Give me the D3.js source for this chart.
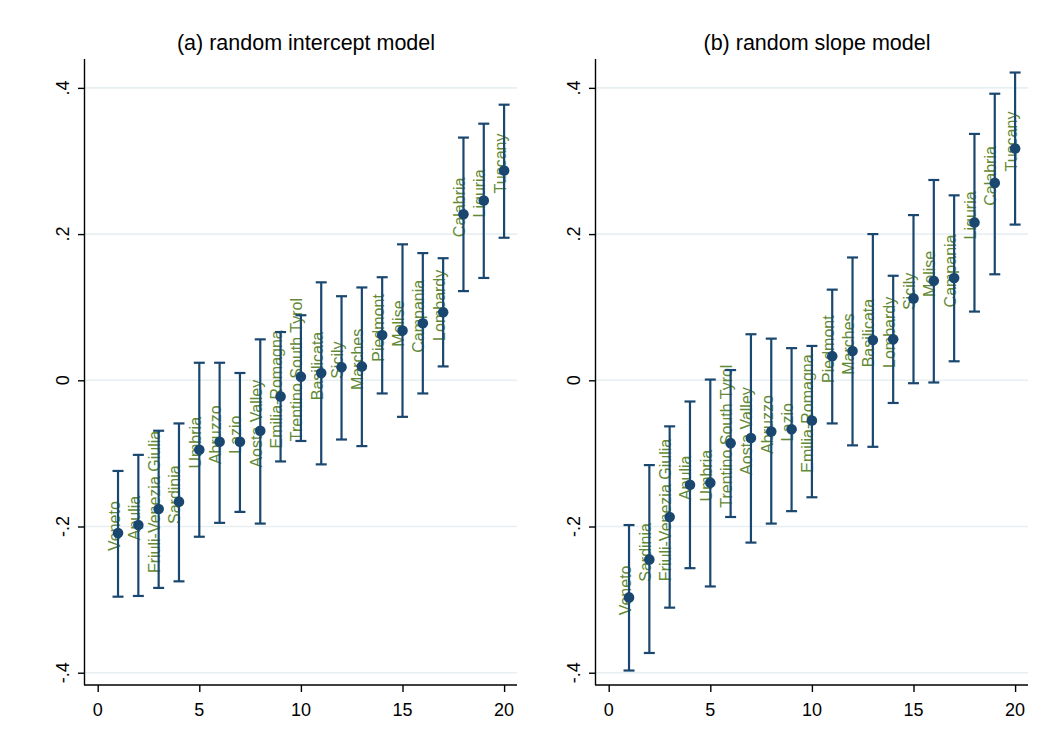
<!DOCTYPE html>
<html>
<head>
<meta charset="utf-8">
<script src="https://cdn.jsdelivr.net/npm/d3@7"></script>
<style>
  html, body { margin: 0; padding: 0; background: #fff; }
  svg { display: block; font-family: "Liberation Sans", Arial, sans-serif; }
</style>
</head>
<body>
<svg id="chart" width="1054" height="752"></svg>
<script>
// ---- data (panel a: random intercept model) ----
const regionsA = ["Veneto","Apulia","Friuli-Venezia Giulia","Sardinia","Umbria","Abruzzo","Lazio","Aosta Valley","Emilia-Romagna","Trentino South Tyrol","Basilicata","Sicily","Marches","Piedmont","Molise","Campania","Lombardy","Calabria","Liguria","Tuscany"];
const estA = [-0.209,-0.198,-0.176,-0.166,-0.095,-0.084,-0.084,-0.069,-0.022,0.005,0.010,0.018,0.019,0.062,0.068,0.078,0.093,0.227,0.246,0.287];
const loA  = [-0.296,-0.295,-0.284,-0.275,-0.214,-0.195,-0.180,-0.196,-0.111,-0.083,-0.115,-0.081,-0.090,-0.018,-0.050,-0.018,0.019,0.122,0.140,0.195];
const hiA  = [-0.124,-0.102,-0.069,-0.059,0.024,0.024,0.010,0.056,0.066,0.089,0.134,0.115,0.127,0.141,0.186,0.174,0.167,0.332,0.351,0.377];

// ---- data (panel b: random slope model) ----
const regionsB = ["Veneto","Sardinia","Friuli-Venezia Giulia","Apulia","Umbria","Trentino South Tyrol","Aosta Valley","Abruzzo","Lazio","Emilia-Romagna","Piedmont","Marches","Basilicata","Lombardy","Sicily","Molise","Campania","Liguria","Calabria","Tuscany"];
const estB = [-0.297,-0.245,-0.187,-0.143,-0.140,-0.086,-0.079,-0.070,-0.067,-0.055,0.033,0.040,0.055,0.056,0.112,0.136,0.140,0.216,0.270,0.317];
const loB  = [-0.397,-0.373,-0.311,-0.257,-0.282,-0.187,-0.222,-0.196,-0.179,-0.160,-0.059,-0.089,-0.091,-0.031,-0.004,-0.003,0.026,0.094,0.145,0.213];
const hiB  = [-0.198,-0.116,-0.063,-0.029,0.001,0.014,0.063,0.057,0.044,0.047,0.124,0.168,0.200,0.143,0.226,0.274,0.253,0.337,0.392,0.421];

const titles = ["(a) random intercept model", "(b) random slope model"];
const xTicks = [0, 5, 10, 15, 20];
const yTicks = [-0.4, -0.2, 0, 0.2, 0.4];
const yTickLabels = ["-.4", "-.2", "0", ".2", ".4"];

// ---- styling ----
const navy = "#1a476f";
const olive = "#628a36";
const gridColor = "#e8eff2";

const svg = d3.select("#chart");
svg.append("rect").attr("width", 1054).attr("height", 752).attr("fill", "#fff");

const panels = [
  { left: 85, right: 517, title: titles[0], names: regionsA, est: estA, lo: loA, hi: hiA },
  { left: 596, right: 1028, title: titles[1], names: regionsB, est: estB, lo: loB, hi: hiB }
];
const plotTop = 59, plotBottom = 685;

panels.forEach(p => {
  const x = d3.scaleLinear().domain([-0.625, 20.635]).range([p.left, p.right]);
  const y = d3.scaleLinear().domain([-0.4168, 0.4395]).range([plotBottom, plotTop]);
  const g = svg.append("g");

  // title
  g.append("text")
    .attr("x", (p.left + p.right) / 2 + 5)
    .attr("y", 50)
    .attr("text-anchor", "middle")
    .attr("font-size", 21.5)
    .attr("fill", "#000")
    .text(p.title);

  // gridlines
  g.selectAll(".grid").data(yTicks).enter().append("line")
    .attr("x1", p.left).attr("x2", p.right)
    .attr("y1", d => y(d)).attr("y2", d => y(d))
    .attr("stroke", gridColor).attr("stroke-width", 1.6);

  // axes
  const yAxis = d3.axisLeft(y).tickValues(yTicks).tickSize(7).tickFormat("");
  const yg = g.append("g").attr("transform", `translate(${p.left},0)`).call(yAxis);
  yg.select(".domain").attr("d", `M-0.5,${plotTop}V${plotBottom}`);
  const xAxis = d3.axisBottom(x).tickValues(xTicks).tickSize(7).tickFormat("");
  const xg = g.append("g").attr("transform", `translate(0,${plotBottom})`).call(xAxis);
  xg.select(".domain").attr("d", `M${p.left - 1},0H${p.right}`);
  [yg, xg].forEach(a => {
    a.selectAll("path, line").attr("stroke", "#000").attr("stroke-width", 1.4);
  });

  // tick labels
  g.selectAll(".ylab").data(yTicks).enter().append("text")
    .attr("transform", d => `translate(${p.left - 16.5},${y(d)}) rotate(-90)`)
    .attr("text-anchor", "middle")
    .attr("font-size", 18)
    .attr("fill", "#000")
    .text((d, i) => yTickLabels[i]);
  g.selectAll(".xlab").data(xTicks).enter().append("text")
    .attr("x", d => x(d))
    .attr("y", 715.5)
    .attr("text-anchor", "middle")
    .attr("font-size", 18)
    .attr("fill", "#000")
    .text(d => d);

  const idx = d3.range(1, p.est.length + 1);

  // marker labels
  g.selectAll(".mlab").data(idx).enter().append("text")
    .attr("transform", i => `translate(${x(i) + 1.5},${y(p.est[i - 1]) - 7}) rotate(-90)`)
    .attr("text-anchor", "middle")
    .attr("font-size", 16)
    .attr("fill", olive)
    .text(i => p.names[i - 1]);

  // error bars
  const cap = 5.5;
  const eb = g.selectAll(".eb").data(idx).enter().append("g")
    .attr("stroke", navy).attr("stroke-width", 2.2).attr("fill", "none");
  eb.append("line").attr("x1", i => x(i)).attr("x2", i => x(i))
    .attr("y1", i => y(p.lo[i - 1])).attr("y2", i => y(p.hi[i - 1]));
  eb.append("line").attr("x1", i => x(i) - cap).attr("x2", i => x(i) + cap)
    .attr("y1", i => y(p.lo[i - 1])).attr("y2", i => y(p.lo[i - 1]));
  eb.append("line").attr("x1", i => x(i) - cap).attr("x2", i => x(i) + cap)
    .attr("y1", i => y(p.hi[i - 1])).attr("y2", i => y(p.hi[i - 1]));

  // points
  g.selectAll(".pt").data(idx).enter().append("circle")
    .attr("cx", i => x(i)).attr("cy", i => y(p.est[i - 1]))
    .attr("r", 5.3).attr("fill", navy);
});
</script>
</body>
</html>
